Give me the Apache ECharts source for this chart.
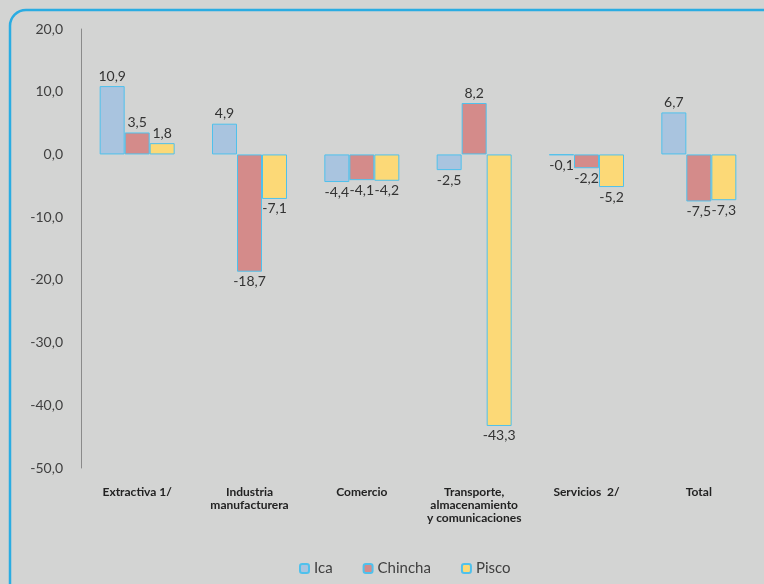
<!DOCTYPE html>
<html>
<head>
<meta charset="utf-8">
<script src="https://cdn.jsdelivr.net/npm/echarts@6/dist/echarts.min.js"></script>
<style>
html,body{margin:0;padding:0;background:#d3d4d3;}
#chart{width:764px;height:584px;}
</style>
</head>
<body>
<div id="chart"></div>
<script>
var categories = ['Extractiva 1/', 'Industria\nmanufacturera', 'Comercio', 'Transporte,\nalmacenamiento\ny comunicaciones', 'Servicios  2/', 'Total'];
var ica = [10.9, 4.9, -4.4, -2.5, -0.1, 6.7];
var chincha = [3.5, -18.7, -4.1, 8.2, -2.2, -7.5];
var pisco = [1.8, -7.1, -4.2, -43.3, -5.2, -7.3];
var seriesNames = ['Ica', 'Chincha', 'Pisco'];
var colors = ['#a9c4df', '#d48b8a', '#fcd977'];

function fmt(v) { return v.toFixed(1).replace('.', ','); }

function mk(name, arr, color) {
  return {
    name: name,
    type: 'bar',
    barWidth: 25,
    barGap: '0%',
    itemStyle: { color: color, borderColor: '#4fc1ec', borderWidth: 1 },
    label: {
      show: true,
      fontFamily: 'Lato',
      fontSize: 14,
      color: '#333',
      distance: 3,
      formatter: function (p) { return fmt(p.value); }
    },
    data: arr.map(function (v) {
      return { value: v, label: { position: v < 0 ? 'bottom' : 'top' } };
    })
  };
}

var chart = echarts.init(document.getElementById('chart'));
chart.setOption({
  backgroundColor: '#d3d4d3',
  animation: false,
  textStyle: { fontFamily: 'Lato' },
  graphic: [{
    type: 'rect',
    shape: { x: 10, y: 10, width: 770, height: 590, r: 16 },
    style: { fill: 'none', stroke: '#2aace2', lineWidth: 2.5 },
    silent: true
  }],
  grid: { left: 81, right: 9, top: 29, bottom: 116 },
  legend: {
    left: 294,
    top: 556,
    itemWidth: 9,
    itemHeight: 9,
    itemGap: 30,
    data: seriesNames,
    textStyle: { fontFamily: 'Lato', fontSize: 15, color: '#404040' }
  },
  xAxis: {
    type: 'category',
    data: categories,
    position: 'bottom',
    axisLine: { show: false, onZero: false },
    axisTick: { show: false },
    axisLabel: {
      fontFamily: 'Lato',
      fontSize: 12,
      fontWeight: 'bold',
      color: '#222',
      lineHeight: 13,
      margin: 18,
      interval: 0
    }
  },
  yAxis: {
    type: 'value',
    min: -50,
    max: 20,
    interval: 10,
    axisLine: { show: true, lineStyle: { color: '#8a8a8a', width: 1 } },
    axisTick: { show: false },
    splitLine: { show: false },
    axisLabel: {
      fontFamily: 'Lato',
      fontSize: 14,
      color: '#404040',
      margin: 18,
      formatter: function (v) { return fmt(v); }
    }
  },
  series: [
    mk(seriesNames[0], ica, colors[0]),
    mk(seriesNames[1], chincha, colors[1]),
    mk(seriesNames[2], pisco, colors[2])
  ]
});
</script>
</body>
</html>
